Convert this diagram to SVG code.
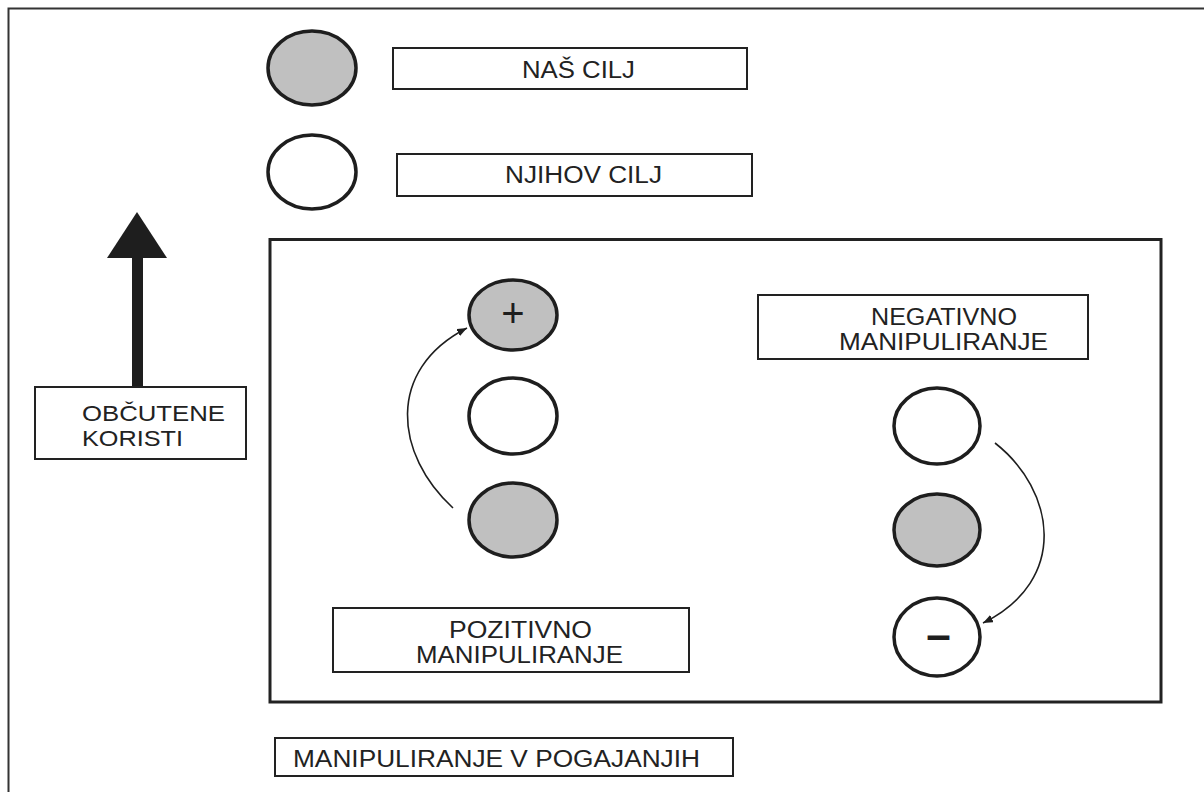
<svg xmlns="http://www.w3.org/2000/svg" width="1204" height="792" viewBox="0 0 1204 792">
<style>
.t{font-family:"Liberation Sans",Arial,sans-serif;font-size:23px;fill:#222}
.t2{font-family:"Liberation Sans",Arial,sans-serif;font-size:21.5px;fill:#222}
.box{fill:#fff;stroke:#222;stroke-width:2}
.cf{fill:#c0c0c0;stroke:#1e1e1e;stroke-width:3.5}
.ce{fill:#fff;stroke:#1e1e1e;stroke-width:3.5}
.con{fill:none;stroke:#1e1e1e;stroke-width:1.6}
.sym{font-family:"Liberation Sans",Arial,sans-serif;fill:#1e1e1e;text-anchor:middle}
</style>
<defs>
<marker id="ah" viewBox="0 0 10 10" refX="10" refY="5" markerWidth="10" markerHeight="8" markerUnits="userSpaceOnUse" orient="auto" preserveAspectRatio="none">
<path d="M0,0 L10,5 L0,10 z" fill="#1e1e1e"/>
</marker>
</defs>
<rect width="1204" height="792" fill="#fff"/>
<g id="frame">
<path d="M8.5,792 L8.5,8.5 L1204,8.5" fill="none" stroke="#333" stroke-width="2"/>
</g>
<g id="main-box">
<rect x="270" y="239.5" width="891" height="462.5" fill="none" stroke="#222" stroke-width="3"/>
</g>
<g id="legend-ours">
<ellipse class="cf" cx="312" cy="68" rx="44" ry="37"/>
</g>
<g id="legend-ours-label">
<rect class="box" x="393" y="48" width="354" height="41"/>
<text class="t" x="522" y="78" textLength="113" lengthAdjust="spacingAndGlyphs">NAŠ CILJ</text>
</g>
<g id="legend-theirs">
<ellipse class="ce" cx="312" cy="172" rx="44" ry="37"/>
</g>
<g id="legend-theirs-label">
<rect class="box" x="397" y="154" width="355" height="42"/>
<text class="t" x="505" y="183" textLength="157" lengthAdjust="spacingAndGlyphs">NJIHOV CILJ</text>
</g>
<g id="benefit-arrow">
<rect x="132" y="256" width="11" height="132" fill="#1e1e1e"/>
<path d="M137,212 L167,258 L107,258 z" fill="#1e1e1e"/>
</g>
<g id="benefit-label">
<rect class="box" x="35" y="387" width="211" height="72"/>
<text class="t2" x="82" y="421" textLength="143" lengthAdjust="spacingAndGlyphs">OBČUTENE</text>
<text class="t2" x="82" y="446" textLength="101" lengthAdjust="spacingAndGlyphs">KORISTI</text>
</g>
<g id="pos-top">
<ellipse class="cf" cx="513" cy="315" rx="44" ry="35"/>
<text class="sym" x="513" y="327" font-size="40">+</text>
</g>
<g id="pos-mid">
<ellipse class="ce" cx="513" cy="416" rx="44" ry="38"/>
</g>
<g id="pos-bot">
<ellipse class="cf" cx="513" cy="520" rx="44" ry="37"/>
</g>
<g id="pos-label">
<rect class="box" x="333" y="608" width="356" height="64"/>
<text class="t" x="449" y="638" textLength="143" lengthAdjust="spacingAndGlyphs">POZITIVNO</text>
<text class="t" x="416" y="663" textLength="207" lengthAdjust="spacingAndGlyphs">MANIPULIRANJE</text>
</g>
<g id="neg-label">
<rect class="box" x="758" y="295" width="330" height="64"/>
<text class="t" x="871" y="325" textLength="146" lengthAdjust="spacingAndGlyphs">NEGATIVNO</text>
<text class="t" x="839" y="350" textLength="209" lengthAdjust="spacingAndGlyphs">MANIPULIRANJE</text>
</g>
<g id="neg-top">
<ellipse class="ce" cx="937" cy="426" rx="43" ry="38"/>
</g>
<g id="neg-mid">
<ellipse class="cf" cx="937" cy="530" rx="43" ry="36"/>
</g>
<g id="neg-bot">
<ellipse class="ce" cx="937" cy="637" rx="43" ry="39"/>
<text class="sym" x="938.5" y="650" font-size="44" font-weight="bold">–</text>
</g>
<g id="title">
<rect class="box" x="275" y="738" width="458" height="38"/>
<text class="t" x="293" y="767" textLength="407" lengthAdjust="spacingAndGlyphs">MANIPULIRANJE V POGAJANJIH</text>
</g>
<g id="connectors">
<path class="con" d="M453,508 C 395,455 385,370 467,328" marker-end="url(#ah)"/>
<path class="con" d="M995,443 C 1055,490 1070,580 983,623" marker-end="url(#ah)"/>
</g>
</svg>
